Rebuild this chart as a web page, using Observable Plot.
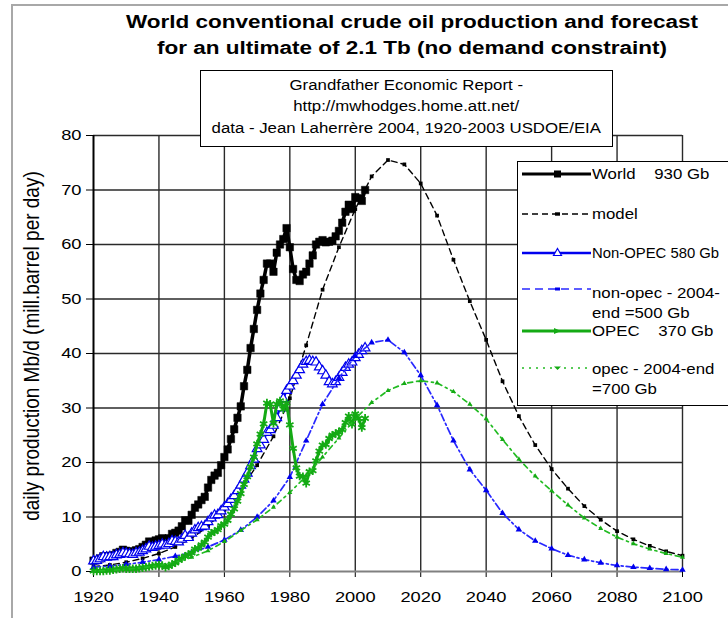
<!DOCTYPE html>
<html>
<head>
<meta charset="utf-8">
<script src="https://cdn.jsdelivr.net/npm/d3@7"></script>
<script src="https://cdn.jsdelivr.net/npm/@observablehq/plot@0.6"></script>
<style>
  html, body { margin: 0; padding: 0; background: #fff; overflow: hidden; }
  #wrap { position: relative; width: 728px; height: 618px; overflow: hidden; font-family: "Liberation Sans", Arial, sans-serif; color: #000; }
  #chart { position: absolute; left: 0; top: 0; }
  .frame { position: absolute; left: 11px; top: 4px; width: 760px; height: 660px; border-left: 2px solid #a8a8a8; border-top: 2px solid #a8a8a8; }
  .title { position: absolute; left: 412px; top: 9px; transform: translateX(-50%) scaleX(1.25); white-space: nowrap; text-align: center; font-weight: bold; font-size: 18px; line-height: 26px; }
  .note { position: absolute; left: 200px; top: 70px; width: 411px; height: 75px; border: 1.5px solid #000; background: #fff; }
  .note div { position: absolute; left: 0; width: 100%; text-align: center; font-size: 14px; line-height: 16px; white-space: nowrap; }
  .note span { display: inline-block; transform: scaleX(1.2); }
  .ylab { position: absolute; left: 32px; top: 346px; transform: translate(-50%, -50%) scaleX(1.2) rotate(-90deg); white-space: nowrap; font-size: 19px; }
  .legend { position: absolute; left: 517px; top: 161px; width: 260px; height: 243px; border: 1.5px solid #000; background: #fff; }
  .lrow { position: absolute; left: 0; }
  .lrow svg { position: absolute; left: 0; }
  .ltxt { position: absolute; left: 74px; font-size: 15px; line-height: 20px; white-space: pre; transform-origin: 0 50%; transform: scaleX(1.12); }
</style>
</head>
<body>
<div id="wrap">
  <div class="frame"></div>
  <div id="chart"></div>
  <div class="title">World conventional crude oil production and forecast<br>for an ultimate of 2.1 Tb (no demand constraint)</div>
  <div class="note">
    <div style="top:6px"><span>Grandfather Economic Report -</span></div>
    <div style="top:27px"><span>http://mwhodges.home.att.net/</span></div>
    <div style="top:49px"><span>data - Jean Laherrère 2004, 1920-2003 USDOE/EIA</span></div>
  </div>
  <div class="ylab">daily production Mb/d (mill.barrel per day)</div>
  <div class="legend" id="legend"></div>
</div>
<script>
// ---------- data ----------
const actualStart = 1920;   // annual history 1920-2003
const modelStart = 1920;    // model every 5 years 1920-2100
const modelStep = 5;

const worldActual = [
  2.0, 2.1, 2.4, 2.8, 2.8, 2.9, 3.0, 3.4, 3.6, 4.0,
  3.8, 3.7, 3.6, 3.9, 4.1, 4.5, 4.9, 5.5, 5.4, 5.7,
  5.9, 6.1, 5.6, 6.1, 6.9, 7.1, 7.5, 8.3, 9.4, 9.3,
  10.4, 11.7, 12.3, 13.1, 13.7, 15.4, 16.8, 17.6, 18.1, 19.5,
  21.0, 22.4, 24.3, 26.1, 28.2, 30.3, 34.0, 37.0, 41.0, 44.5,
  48.0, 51.0, 53.5, 56.5, 56.5, 55.0, 58.5, 60.0, 61.0, 63.0,
  59.5, 55.5, 53.5, 53.3, 54.5, 55.0, 56.5, 58.0, 60.0, 60.5,
  60.8, 60.4, 60.5, 60.7, 61.5, 62.5, 64.0, 66.0, 67.3, 66.5,
  68.7, 68.5, 68.0, 70.0
];
const nonOpecActual = [
  1.9, 2.0, 2.3, 2.7, 2.6, 2.7, 2.7, 3.0, 3.1, 3.4,
  3.3, 3.2, 3.1, 3.4, 3.5, 3.8, 4.1, 4.6, 4.4, 4.6,
  4.7, 5.0, 4.8, 5.1, 5.6, 5.5, 5.4, 5.9, 6.6, 6.2,
  7.0, 7.6, 8.0, 8.2, 8.3, 9.1, 9.8, 10.3, 10.4, 11.1,
  11.8, 12.4, 13.2, 13.9, 14.8, 15.8, 16.9, 18.0, 19.4, 20.6,
  22.5, 23.2, 24.2, 25.5, 26.0, 26.8, 28.2, 30.0, 31.7, 33.2,
  34.0, 35.0, 36.0, 37.0, 38.0, 38.5, 38.7, 38.5, 38.4, 37.5,
  36.8, 36.0, 34.8, 34.4, 34.8, 35.6, 36.5, 37.4, 38.0, 38.4,
  39.2, 39.8, 40.5, 41.0
];
const opecActual = [
  0.1, 0.1, 0.1, 0.1, 0.2, 0.2, 0.3, 0.4, 0.5, 0.6,
  0.5, 0.5, 0.5, 0.5, 0.6, 0.7, 0.8, 0.9, 1.0, 1.1,
  1.2, 1.1, 0.8, 1.0, 1.3, 1.6, 2.1, 2.4, 2.8, 3.1,
  3.4, 4.1, 4.3, 4.9, 5.4, 6.3, 7.0, 7.3, 7.7, 8.4,
  8.7, 9.4, 10.5, 11.5, 12.9, 14.3, 16.0, 17.4, 19.2, 21.0,
  23.4, 25.2, 27.1, 30.9, 30.7, 27.2, 30.7, 31.3, 29.8, 30.9,
  26.9, 22.6, 19.0, 17.5, 17.4, 16.2, 18.3, 18.5, 20.3, 22.1,
  23.2, 23.3, 24.4, 25.0, 25.3, 25.6, 26.0, 27.3, 28.5, 27.0,
  28.9, 28.1, 26.4, 28.1
];
const worldModel = [
  0.9, 1.2, 1.7, 2.4, 3.3, 4.5, 6.1, 8.3, 11.3, 15.1,
  19.5, 24.8, 31.8, 41.5, 51.7, 59.5, 66.5, 72.5, 75.5, 74.7,
  71.2, 65.3, 57.2, 49.6, 42.5, 34.9, 28.5, 23.2, 18.8, 15.2,
  12.0, 9.5, 7.4, 5.9, 4.7, 3.7, 2.9
];
const nonOpecModel = [
  0.8, 1.0, 1.3, 1.7, 2.2, 2.8, 3.5, 4.5, 5.8, 7.6,
  10.0, 13.0, 17.3, 24.0, 30.7, 35.5, 39.5, 42.0, 42.5, 40.2,
  36.0, 30.5, 24.0, 18.7, 14.9, 10.7, 7.7, 5.6, 4.2, 3.0,
  2.2, 1.6, 1.1, 0.8, 0.6, 0.4, 0.3
];
const opecModel = [
  0.1, 0.2, 0.4, 0.7, 1.1, 1.7, 2.6, 3.8, 5.5, 7.5,
  9.5, 11.8, 14.5, 17.5, 21.0, 24.5, 28.0, 31.0, 33.2, 34.5,
  35.0, 34.6, 33.0, 30.7, 28.0, 24.2, 20.6, 17.5, 14.8, 12.2,
  9.8, 7.9, 6.3, 5.1, 4.1, 3.3, 2.6
];
const xTickLabels = [1920, 1940, 1960, 1980, 2000, 2020, 2040, 2060, 2080, 2100];
const yTickLabels = [0, 10, 20, 30, 40, 50, 60, 70, 80];

const legendItems = [
  {label: "World    930 Gb"},
  {label: "model"},
  {label: "Non-OPEC 580 Gb"},
  {label: "non-opec - 2004-\nend =500 Gb"},
  {label: "OPEC    370 Gb"},
  {label: "opec - 2004-end\n=700 Gb"}
];

// ---------- build tables ----------
const toRows = (vals, start, step) => vals.map((v, i) => ({year: start + i * step, v}));
const wA = toRows(worldActual, actualStart, 1);
const nA = toRows(nonOpecActual, actualStart, 1);
const oA = toRows(opecActual, actualStart, 1);
const wM = toRows(worldModel, modelStart, modelStep);
const nM = toRows(nonOpecModel, modelStart, modelStep);
const oM = toRows(opecModel, modelStart, modelStep);

const BLACK = "#000", BLUE = "#0000ee", BLUE2 = "#2828ff", GREEN = "#14aa14", GREEN2 = "#22bb22";

const chart = Plot.plot({
  width: 728, height: 618,
  marginLeft: 93, marginRight: 46, marginTop: 135, marginBottom: 47,
  x: {domain: [1920, 2100]},
  y: {domain: [0, 80]},
  style: {fontFamily: "'Liberation Sans', Arial, sans-serif", fontSize: "15px", color: "#000", background: "transparent", overflow: "visible"},
  marks: [
    Plot.ruleX(xTickLabels.slice(1), {stroke: "#2a2a2a", strokeWidth: 1.4}),
    Plot.ruleY(yTickLabels.slice(1), {stroke: "#2a2a2a", strokeWidth: 1.4}),
    Plot.axisX({ticks: xTickLabels, tickFormat: d => String(d), tickSize: 6, tickPadding: 14, fontSize: 15, label: null, stroke: "#000"}),
    Plot.axisY({ticks: yTickLabels, tickSize: 7, tickPadding: 5, fontSize: 15, label: null, stroke: "#000"}),
    Plot.ruleY([0], {stroke: "#808080", strokeWidth: 2}),
    Plot.ruleX([1920], {stroke: "#000", strokeWidth: 2}),
    // World actual
    Plot.line(wA, {x: "year", y: "v", stroke: BLACK, strokeWidth: 3.5}),
    Plot.dot(wA, {x: "year", y: "v", symbol: "square", r: 4.2, fill: BLACK, stroke: BLACK, strokeWidth: 0.5}),
    // model
    Plot.line(wM, {x: "year", y: "v", stroke: BLACK, strokeWidth: 1.4, strokeDasharray: "6,4"}),
    Plot.dot(wM, {x: "year", y: "v", symbol: "square", r: 2.1, fill: BLACK}),
    // Non-OPEC actual
    Plot.line(nA, {x: "year", y: "v", stroke: BLUE, strokeWidth: 2.2}),
    Plot.dot(nA, {x: "year", y: "v", symbol: "triangle", r: 3.6, fill: "#fff", stroke: BLUE, strokeWidth: 1.2}),
    // non-opec model
    Plot.line(nM, {x: "year", y: "v", stroke: BLUE2, strokeWidth: 1.7, strokeDasharray: "7,3,2,3"}),
    Plot.dot(nM, {x: "year", y: "v", symbol: "triangle", r: 2.4, fill: BLUE}),
    // OPEC actual
    Plot.line(oA, {x: "year", y: "v", stroke: GREEN, strokeWidth: 3}),
    Plot.dot(oA, {x: "year", y: "v", symbol: "asterisk", r: 4, stroke: GREEN, strokeWidth: 1.8}),
    // opec model
    Plot.line(oM, {x: "year", y: "v", stroke: GREEN2, strokeWidth: 1.7, strokeDasharray: "2,4,5,4"}),
    Plot.dot(oM, {x: "year", y: "v", symbol: "triangle2", r: 2.4, fill: GREEN})
  ]
});
document.getElementById("chart").appendChild(chart);

// stretch tick labels horizontally like the reference
chart.querySelectorAll('g[aria-label="x-axis tick label"] text, g[aria-label="y-axis tick label"] text').forEach(t => {
  const tr = t.getAttribute("transform") || "";
  t.setAttribute("transform", tr + " scale(1.22,1)");
});

// ---------- legend ----------
const legendRows = [
  {y: 12, ty: 2,   sx: 1.12, draw: () => `<line x1="4" x2="73" y1="10" y2="10" stroke="${BLACK}" stroke-width="3"/><rect x="36" y="6.5" width="7" height="7" fill="${BLACK}"/>`},
  {y: 52, ty: 42,  sx: 1.12, draw: () => `<line x1="4" x2="73" y1="10" y2="10" stroke="${BLACK}" stroke-width="1.3" stroke-dasharray="6,4"/><rect x="37" y="8.3" width="5" height="3.4" fill="${BLACK}"/>`},
  {y: 91, ty: 81,  sx: 0.99, draw: () => `<line x1="4" x2="73" y1="10" y2="10" stroke="${BLUE}" stroke-width="2.5"/><path d="M39.5,5.5 L43.5,12.5 L35.5,12.5 Z" fill="#fff" stroke="${BLUE}" stroke-width="1.2"/>`},
  {y: 127, ty: 121, sx: 1.12, draw: () => `<line x1="4" x2="73" y1="10" y2="10" stroke="${BLUE2}" stroke-width="1.4" stroke-dasharray="8,5"/><rect x="37" y="8.5" width="5" height="3" fill="${BLUE}"/>`},
  {y: 169, ty: 159, sx: 1.12, draw: () => `<line x1="4" x2="73" y1="10" y2="10" stroke="${GREEN}" stroke-width="3"/><path d="M36,7 L43,10 L36,13 Z" fill="${GREEN}"/>`},
  {y: 206, ty: 197, sx: 1.12, draw: () => `<line x1="4" x2="73" y1="10" y2="10" stroke="${GREEN2}" stroke-width="1.4" stroke-dasharray="2,5"/><path d="M36,8.5 L43,8.5 L39.5,12 Z" fill="${GREEN}"/>`}
];
const leg = document.getElementById("legend");
legendRows.forEach((r, i) => {
  const row = document.createElement("div");
  row.className = "lrow";
  row.innerHTML = `<svg width="80" height="20" style="top:${r.y - 10}px">${r.draw()}</svg>` +
    `<div class="ltxt" style="top:${r.ty}px;transform:scaleX(${r.sx})">${legendItems[i].label.replace("\n", "<br>")}</div>`;
  leg.appendChild(row);
});
</script>
</body>
</html>
